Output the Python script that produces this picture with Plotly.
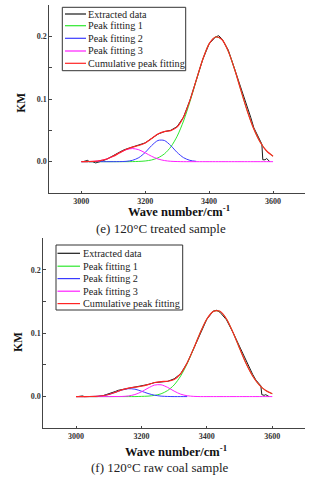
import plotly.graph_objects as go

# ---------------- data ----------------
wavenumber = [3000, 3020, 3040, 3060, 3080, 3100, 3120, 3140, 3160, 3180,
              3200, 3220, 3240, 3260, 3280, 3300, 3320, 3340, 3360, 3380,
              3400, 3420, 3440, 3460, 3480, 3500, 3520, 3540, 3560, 3580, 3600]

data_wavenumber = [3005, 3015, 3020, 3025, 3035, 3045, 3055, 3065, 3080, 3100,
                   3110, 3120, 3130, 3140, 3160, 3180, 3200, 3220, 3240, 3260,
                   3280, 3300, 3320, 3340, 3360, 3380, 3400, 3420, 3430, 3440,
                   3460, 3480, 3500, 3510, 3520, 3530, 3540, 3550, 3560, 3565,
                   3568, 3575, 3580, 3585, 3590]

# (e) 120 C treated sample
e_extracted = [0.000, 0.001, 0.002, 0.000, 0.000, -0.002, -0.001, 0.001, 0.004, 0.010,
               0.013, 0.016, 0.018, 0.020, 0.023, 0.026, 0.030, 0.037, 0.044, 0.048,
               0.050, 0.056, 0.071, 0.098, 0.131, 0.163, 0.188, 0.199, 0.201, 0.196,
               0.178, 0.148, 0.116, 0.101, 0.086, 0.071, 0.054, 0.043, 0.032, 0.028,
               0.003, 0.003, 0.005, 0.002, 0.000]
e_peak1 = [0, 0, 0, 0, 0, 0, 0, 0, 0.0001, 0.0004,
           0.0011, 0.0027, 0.0061, 0.0124, 0.0234, 0.0406, 0.0649, 0.0957, 0.130, 0.163,
           0.188, 0.199, 0.195, 0.176, 0.147, 0.113, 0.080, 0.052, 0.031, 0.017, 0.0088]
e_peak2 = [0, 0, 0, 0, 0, 0, 0.0001, 0.0005, 0.0021, 0.0064,
           0.0147, 0.0256, 0.0338, 0.0338, 0.0256, 0.0147, 0.0064, 0.0021, 0.0005]
e_peak3 = [0, 0.0002, 0.0006, 0.0018, 0.0043, 0.0086, 0.0141, 0.0190, 0.0210, 0.0190,
           0.0141, 0.0086, 0.0043, 0.0018, 0.0006, 0.0002, 0, 0, 0, 0,
           0, 0, 0, 0, 0, 0, 0, 0, 0, 0, 0]
e_cumulative = [0.000, 0.0002, 0.0006, 0.0018, 0.0043, 0.0086, 0.0142, 0.0195, 0.0232, 0.0258,
                0.0299, 0.0369, 0.0442, 0.0480, 0.0496, 0.0555, 0.0713, 0.0978, 0.1305, 0.163,
                0.188, 0.199, 0.195, 0.176, 0.147, 0.113, 0.080, 0.052, 0.031, 0.017, 0.0088]

# (f) 120 C raw coal sample
f_extracted = [0.000, 0.001, 0.001, 0.000, 0.000, -0.001, -0.001, 0.000, 0.001, 0.004,
               0.006, 0.008, 0.010, 0.011, 0.013, 0.015, 0.016, 0.019, 0.022, 0.023,
               0.024, 0.028, 0.036, 0.053, 0.076, 0.101, 0.122, 0.135, 0.136, 0.133,
               0.121, 0.101, 0.079, 0.068, 0.055, 0.045, 0.035, 0.026, 0.019, 0.017,
               0.003, 0.002, 0.003, 0.001, 0.000]
f_peak1 = [0, 0, 0, 0, 0, 0, 0, 0, 0, 0,
           0.0003, 0.0007, 0.0019, 0.0044, 0.0095, 0.0184, 0.0325, 0.0521, 0.0761, 0.1011,
           0.1223, 0.1344, 0.1344, 0.1223, 0.1011, 0.0761, 0.0521, 0.0325, 0.0184, 0.0095, 0.0044]
f_peak2 = [0, 0, 0.0001, 0.0004, 0.0013, 0.0033, 0.0066, 0.0103, 0.0124, 0.0117,
           0.0085, 0.0049, 0.0022, 0.0007, 0.0002, 0, 0, 0]
f_peak3 = [0, 0, 0, 0, 0, 0, 0.0001, 0.0002, 0.0010, 0.0032,
           0.0075, 0.0133, 0.0181, 0.0186, 0.0145, 0.0086, 0.0038, 0.0013, 0.0003, 0,
           0, 0, 0, 0, 0, 0, 0, 0, 0, 0, 0]
f_cumulative = [0, 0, 0.0001, 0.0004, 0.0013, 0.0033, 0.0067, 0.0105, 0.0134, 0.0149,
                0.0163, 0.0189, 0.0222, 0.0237, 0.0242, 0.0270, 0.0363, 0.0534, 0.0764, 0.1011,
                0.1223, 0.1344, 0.1344, 0.1223, 0.1011, 0.0761, 0.0521, 0.0325, 0.0184, 0.0095, 0.0044]

series_names = ["Extracted data", "Peak fitting 1", "Peak fitting 2",
                "Peak fitting 3", "Cumulative peak fitting"]
captions = ["(e) 120°C treated sample", "(f) 120°C raw coal sample"]
x_ticks = [3000, 3200, 3400, 3600]

# ---------------- styles ----------------
COLORS = ["#1a1a1a", "#2ee82e", "#3a3aff", "#ff1fff", "#ff2424"]
WIDTHS = [1, 1, 1, 1, 1.2]
SERIF = "Liberation Serif"
AXC = "#444444"

fig = go.Figure()

panels = [
    dict(xa="x", ya="y",
         series=[(data_wavenumber, e_extracted), (wavenumber, e_peak1),
                 (wavenumber[:len(e_peak2)], e_peak2), (wavenumber, e_peak3),
                 (wavenumber, e_cumulative)]),
    dict(xa="x2", ya="y2",
         series=[(data_wavenumber, f_extracted), (wavenumber, f_peak1),
                 (wavenumber[:len(f_peak2)], f_peak2), (wavenumber, f_peak3),
                 (wavenumber, f_cumulative)]),
]

for p in panels:
    for i, (xs, ys) in enumerate(p["series"]):
        shape = "linear" if i == 0 else "spline"
        fig.add_trace(go.Scatter(
            x=xs, y=ys, mode="lines", name=series_names[i],
            line=dict(color=COLORS[i], width=WIDTHS[i], shape=shape, smoothing=0.8),
            xaxis=p["xa"], yaxis=p["ya"], showlegend=False, hoverinfo="skip"))

W, H = 315, 480
def px(x):
    return x / W
def py(y):
    return 1 - y / H

def xaxis_cfg(d0, d1, anchor):
    return dict(domain=[px(d0), px(d1)], anchor=anchor, range=[2900, 3700],
                showline=True, linecolor=AXC, linewidth=1, mirror=False,
                ticks="inside", ticklen=2, tickcolor=AXC, tickvals=x_ticks,
                showgrid=False, zeroline=False,
                tickfont=dict(family=SERIF, size=8, color="#333", weight="bold"))

def yaxis_cfg(top, bottom, anchor):
    return dict(domain=[py(bottom), py(top)], anchor=anchor, range=[-0.05, 0.25],
                showline=True, linecolor=AXC, linewidth=1, mirror=False,
                ticks="inside", ticklen=3, tickcolor=AXC, dtick=0.1, tick0=0,
                tickformat=".1f", showgrid=False, zeroline=False,
                minor=dict(dtick=0.05, tick0=0, ticks="inside", ticklen=3, tickcolor=AXC),
                tickfont=dict(family=SERIF, size=8, color="#333", weight="bold"))

fig.update_layout(
    width=W, height=H, margin=dict(l=0, r=0, t=0, b=0),
    paper_bgcolor="white", plot_bgcolor="white", showlegend=False,
    xaxis=xaxis_cfg(49.3, 305, "y"),
    yaxis=yaxis_cfg(5, 193, "x"),
    xaxis2=xaxis_cfg(43.3, 305, "y2"),
    yaxis2=yaxis_cfg(238, 428.3, "x2"),
)

annotations = []
shapes = []

# axis titles and captions
for (kmx, kmy, wx, wy, cx, cy, cap) in [
        (20.7, 103, 179, 211, 160.5, 228.7, captions[0]),
        (18, 342, 176, 450.7, 160, 467.7, captions[1])]:
    annotations.append(dict(x=px(kmx), y=py(kmy), xref="paper", yref="paper",
                            text="KM", textangle=-90, showarrow=False,
                            font=dict(family=SERIF, size=11.5, color="#111", weight="bold"),
                            xanchor="center", yanchor="middle"))
    annotations.append(dict(x=px(wx), y=py(wy), xref="paper", yref="paper",
                            text="Wave number/cm<sup>-1</sup>", showarrow=False,
                            font=dict(family=SERIF, size=12.5, color="#111", weight="bold"),
                            xanchor="center", yanchor="middle"))
    annotations.append(dict(x=px(cx), y=py(cy), xref="paper", yref="paper",
                            text=cap, showarrow=False,
                            font=dict(family=SERIF, size=13, color="#222"),
                            xanchor="center", yanchor="middle"))

# manual legends (box, sample lines, labels)
legend_boxes = [
    dict(x0=62.3, x1=185.7, y0=7.3, y1=70.7, lx0=65, lx1=86, tx=88, rows=[14, 25.7, 38.3, 51, 63.3]),
    dict(x0=56, x1=182.7, y0=245, y1=310, lx0=57.5, lx1=80, tx=82.5, rows=[253.3, 266.2, 278.6, 291.2, 303.6]),
]
for lb in legend_boxes:
    shapes.append(dict(type="rect", xref="paper", yref="paper",
                       x0=px(lb["x0"]), x1=px(lb["x1"]), y0=py(lb["y1"]), y1=py(lb["y0"]),
                       line=dict(color="#333", width=1), fillcolor="white", layer="above"))
    for i, ry in enumerate(lb["rows"]):
        shapes.append(dict(type="line", xref="paper", yref="paper",
                           x0=px(lb["lx0"]), x1=px(lb["lx1"]), y0=py(ry), y1=py(ry),
                           line=dict(color=COLORS[i], width=1.2), layer="above"))
        annotations.append(dict(x=px(lb["tx"]), y=py(ry), xref="paper", yref="paper",
                                text=series_names[i], showarrow=False,
                                font=dict(family=SERIF, size=10.2, color="#222"),
                                xanchor="left", yanchor="middle", xshift=-2))

fig.update_layout(annotations=annotations, shapes=shapes)
fig.write_html("out.html", config={"displayModeBar": False},
               post_script="document.body.style.margin='0';document.body.style.padding='0';")
